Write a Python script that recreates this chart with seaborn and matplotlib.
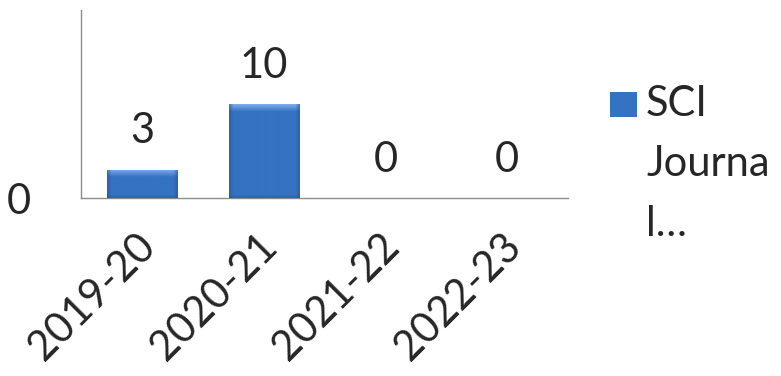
import numpy as np
import pandas as pd
import matplotlib
matplotlib.use("Agg")
import matplotlib.pyplot as plt
import matplotlib.transforms as mtransforms
import seaborn as sns
from matplotlib.colors import to_rgb

years = ["2019-20", "2020-21", "2021-22", "2022-23"]
sci_journals = [3, 10, 0, 0]
series_lines = ["SCI", "Journa", "l…"]

sns.set_style("white")
plt.rcParams["font.family"] = ["Lato", "DejaVu Sans"]
FS = 30
BAR = "#3572C2"

df = pd.DataFrame({"year": years, "count": sci_journals})

fig = plt.figure(figsize=(7.81, 3.76), dpi=100)
ax = fig.add_axes([81 / 781, (376 - 198) / 376, (568 - 81) / 781, (198 - 10) / 376])

sns.barplot(data=df, x="year", y="count", color=BAR, width=0.575,
            saturation=1, ax=ax, zorder=2)
ax.set_xlim(-0.5, 3.5)
ax.set_ylim(0, 20)
fig.canvas.draw()


def bevel_image(px_w, px_h):
    """RGB fill with a light top bevel and darker rims."""
    base = np.array(to_rgb(BAR))
    light = np.array(to_rgb("#7BAEEB"))
    dark = np.array(to_rgb("#23589C"))
    img = np.tile(base, (px_h, px_w, 1))
    bevel = 7
    for r in range(min(bevel, px_h)):
        t = 1 - r / bevel
        img[r] = base * (1 - t) + light * t
    rim = 4
    for c in range(min(rim, px_w)):
        t = 0.6 * (1 - c / rim)
        img[:, c] = img[:, c] * (1 - t) + dark * t
        img[:, -1 - c] = img[:, -1 - c] * (1 - t) + dark * t
    for r in range(min(3, px_h)):
        t = 0.5 * (1 - r / 3)
        img[-1 - r] = img[-1 - r] * (1 - t) + dark * t
    return np.clip(img, 0, 1)


for patch in ax.patches:
    x0, y0 = patch.get_x(), patch.get_y()
    w, h = patch.get_width(), patch.get_height()
    cx = x0 + w / 2
    if h > 0:
        bb = patch.get_window_extent()
        im = ax.imshow(bevel_image(max(int(bb.width), 1), max(int(bb.height), 1)),
                       aspect="auto", extent=[x0, x0 + w, y0, y0 + h],
                       origin="upper", zorder=3, interpolation="bilinear")
        im.set_clip_path(patch)
    ax.annotate(f"{int(h)}", (cx, y0 + h), xytext=(0, 14),
                textcoords="offset points", ha="center", va="bottom",
                fontsize=FS)

ax.set_autoscale_on(False)
ax.set_yticks([0])
ax.set_yticklabels(["0"], fontsize=FS)
ax.tick_params(axis="y", length=0, pad=36)
ax.tick_params(axis="x", length=0, pad=21)
ax.set_xticks(range(len(years)))
ax.set_xticklabels(years, rotation=45, ha="right", rotation_mode="anchor",
                   fontsize=FS)
shift = mtransforms.ScaledTranslation(-6 / 100, 0, fig.dpi_scale_trans)
for lbl in ax.get_xticklabels():
    lbl.set_transform(lbl.get_transform() + shift)
ax.set_xlabel("")
ax.set_ylabel("")
for side in ["top", "right"]:
    ax.spines[side].set_visible(False)
for side in ["left", "bottom"]:
    ax.spines[side].set_color("#8C8C8C")
    ax.spines[side].set_linewidth(1.0)

# legend: key swatch and wrapped series name
key = plt.Rectangle((610 / 781, 1 - 117 / 376), 27 / 781, 25 / 376,
                    transform=fig.transFigure, facecolor=BAR, edgecolor="none")
fig.patches.append(key)
for i, line in enumerate(series_lines):
    fig.text(646 / 781, 1 - (104 + 60 * i) / 376, line, fontsize=FS,
             ha="left", va="center")

fig.savefig("out.png", dpi=100)
